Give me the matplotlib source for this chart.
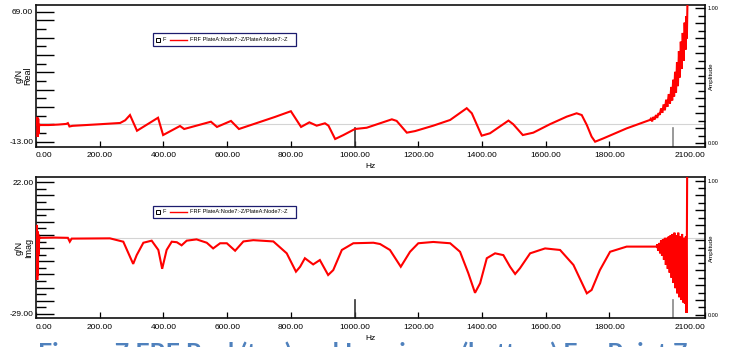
import numpy as np
from matplotlib import pyplot as plt
from matplotlib.patches import Rectangle

plt.rcParams['font.family'] = ['Liberation Sans', 'DejaVu Sans']

# Real part of the FRF (top panel): Hz, g/N
real_hz = [2, 4, 5, 7, 8, 10, 12, 40, 70, 95, 100, 105, 115, 200, 264, 280,
           295, 317, 383, 399, 452, 465, 549, 568, 612, 637, 750, 800, 832,
           858, 881, 907, 918, 939, 965, 1001, 1038, 1117, 1132, 1164, 1190,
           1247, 1300, 1352, 1368, 1399, 1425, 1483, 1498, 1528, 1561, 1613,
           1666, 1697, 1713, 1729, 1744, 1755, 1781, 1854, 1927,
           1930, 1934, 1938, 1942, 1946, 1950, 1954, 1958, 1962, 1966, 1970,
           1974, 1978, 1982, 1986, 1990, 1994, 1997, 2000, 2003, 2006, 2009,
           2012, 2015, 2018, 2021, 2024, 2027, 2030, 2033, 2036, 2039, 2041,
           2043, 2045]
real_val = [-2.5, 2.6, -10.0, 1.5, -8.0, -2.0, -2.5, -2.5, -2.2, -1.8, -1.3,
            -3.4, -3.0, -2.0, -1.2, 0.5, 3.8, -6.1, 2.1, -8.8, -3.1, -5.0,
            -0.4, -3.7, 0.1, -5.0, 2.6, 6.2, -3.7, -0.8, -2.9, -1.4, -2.9,
            -11.3, -8.8, -5.0, -4.2, 1.1, 0.1, -7.3, -6.3, -2.9, 0.7, 8.1,
            4.9, -9.2, -7.7, 0.3, -2.0, -8.8, -7.3, -2.0, 2.8, 4.9, 3.8, -2.5,
            -9.8, -13.0, -10.9, -4.6, 0.7,
            1.5, -0.2, 2.6, 1.0, 3.8, 2.0, 5.0, 3.9, 8.0, 5.2, 10.5, 6.8, 13.5,
            9.0, 17.0, 11.0, 21.5, 13.0, 26.0, 15.5, 31.0, 18.0, 37.0, 22.0,
            44.0, 27.5, 50.0, 33.0, 55.5, 38.0, 62.0, 45.0, 66.0, 52.0, 76.0]

# Imaginary part (bottom panel)
imag_hz = [2, 3, 4, 5, 6, 7, 8, 10, 12, 60, 100, 106, 112, 232, 274, 305,
           316, 337, 363, 384, 396, 410, 426, 442, 457, 473, 504, 536, 556,
           578, 599, 625, 651, 682, 745, 787, 816, 829, 844, 870, 891, 917,
           933, 960, 996, 1059, 1080, 1111, 1145, 1174, 1200, 1247, 1300,
           1331, 1357, 1378, 1394, 1415, 1441, 1467, 1488, 1504, 1519, 1551,
           1598, 1645, 1687, 1729, 1744, 1770, 1802, 1854, 1917, 1948,
           1950, 1953, 1956, 1959, 1962, 1965, 1968, 1971, 1974, 1977, 1980,
           1983, 1986, 1989, 1992, 1995, 1998, 2001, 2004, 2007, 2010, 2013,
           2016, 2019, 2022, 2025, 2028, 2031, 2034, 2037, 2040, 2042, 2044]
imag_val = [0.5, 5.5, -15.8, 3.0, -14.0, 2.0, -6.0, 1.0, 0.5, 0.6, 0.5, -1.0,
            0.2, 0.3, -1.0, -9.6, -6.2, -1.4, -0.6, -4.2, -11.5, -4.2, -1.0,
            -1.2, -2.4, -0.6, -0.1, -1.4, -3.6, -1.6, -1.6, -4.5, -0.9, -0.4,
            -0.9, -5.5, -12.6, -10.7, -7.4, -9.8, -8.1, -13.9, -12.0, -4.2,
            -1.6, -1.4, -1.9, -4.2, -10.7, -4.9, -1.6, -1.1, -1.6, -4.9,
            -13.2, -20.8, -17.1, -7.4, -5.5, -6.2, -10.7, -13.5, -11.3, -5.5,
            -3.6, -4.2, -10.0, -21.0, -19.7, -12.0, -4.9, -2.9, -2.9, -2.9,
            -2.0, -4.5, -1.5, -5.5, -0.5, -6.5, 0.0, -8.0, 0.5, -10.0, 0.5,
            -11.5, 1.0, -13.0, 1.5, -15.0, 2.0, -17.0, 2.5, -19.0, 1.5, -21.0,
            2.5, -22.5, 1.0, -23.5, 2.0, -24.5, 0.5, -25.0, 1.0, -28.6, 27.0]

freq_ticks = [0, 200, 400, 600, 800, 1000, 1200, 1400, 1600, 1800, 2100]
freq_labels = ['%.2f' % f for f in freq_ticks]
marker_hz = [1000, 2000]

real_range = (-13.0, 69.0)
imag_range = (-29.0, 22.0)
real_ref = -2.0
imag_ref = 0.3

legend_label = 'FRF PlateA:Node7:-Z/PlateA:Node7:-Z'
caption = 'Figure 7 FRF Real (top) and Imaginary (bottom) For Point 7'


def setup_panel(ax, hz, vals, yrange, ylim, n_steps, ylabel, ref):
    '''
    Draws one FRF panel with the odd LMS-style axis decorations:
    inward ticks, labels only at the ends, a right amplitude axis.
    '''
    ax.axhline(ref, color='#d4d4d4', lw=0.8, zorder=1)
    ax.plot(hz, vals, color='#ff0000', lw=1.5, zorder=3, solid_joinstyle='miter')

    ax.set_xlim(0, 2100)
    ax.set_ylim(*ylim)

    for side in ax.spines:
        ax.spines[side].set_linewidth(1.2)
        ax.spines[side].set_color('#111111')

    # x axis
    ax.set_xticks(freq_ticks)
    ax.set_xticklabels(freq_labels, fontsize=6)
    ax.tick_params(axis='x', direction='in', length=4, width=0.9, pad=4)
    labels = ax.get_xticklabels()
    labels[0].set_ha('left')
    labels[-1].set_ha('right')
    ax.set_xlabel('Hz', fontsize=6, labelpad=3)

    # long marker lines at 1000 and 2000 Hz
    ax.axvline(marker_hz[0], ymin=0, ymax=0.13, color='#333333', lw=1.2, zorder=2)
    ax.axvline(marker_hz[1], ymin=0, ymax=0.13, color='#888888', lw=1.2, zorder=2)

    # y axis: ends labelled, alternating tick lengths
    ticks = np.linspace(yrange[0], yrange[1], n_steps + 1)
    major = [t for i, t in enumerate(ticks) if i % 2 == 0 or i == n_steps]
    minor = [t for i, t in enumerate(ticks) if not (i % 2 == 0 or i == n_steps)]
    ax.set_yticks(major)
    ax.set_yticks(minor, minor=True)
    ax.set_yticklabels(['%.2f' % t if t in (yrange[0], yrange[1]) else ''
                        for t in major], fontsize=6)
    ax.tick_params(axis='y', which='major', direction='in', length=13, width=1.0, pad=2)
    ax.tick_params(axis='y', which='minor', direction='in', length=7.5, width=1.0)
    ax.set_ylabel(ylabel, fontsize=6.5, linespacing=1.0)
    ax.yaxis.set_label_coords(-0.005, 0.5)

    # right amplitude axis
    amp = ax.twinx()
    amp.set_ylim(-0.025, 1.024)
    amp_ticks = np.linspace(0, 1, 19)
    amp.set_yticks(amp_ticks[::2])
    amp.set_yticks(amp_ticks[1::2], minor=True)
    amp.set_yticklabels(['0.00'] + [''] * 8 + ['1.00'], fontsize=4)
    amp.tick_params(axis='y', which='major', direction='in', length=7.5, width=1.0, pad=2)
    amp.tick_params(axis='y', which='minor', direction='in', length=5, width=1.0)
    amp.set_ylabel('Amplitude', fontsize=4.5)
    amp.yaxis.set_label_coords(1.006, 0.5)
    for side in amp.spines:
        amp.spines[side].set_visible(False)

    # legend box
    tr = ax.transAxes
    ax.add_patch(Rectangle((0.1744, 0.714), 0.2142, 0.085, transform=tr,
                           fill=False, edgecolor='#1c1c6e', lw=0.9, zorder=5))
    ax.plot([0.1829], [0.756], 's', ms=2.6, mfc='white', mec='black', mew=0.7,
            transform=tr, zorder=6)
    ax.text(0.1890, 0.756, 'F', fontsize=4, va='center', transform=tr)
    ax.plot([0.2003, 0.2253], [0.756, 0.756], color='#ff0000', lw=1.0,
            transform=tr, zorder=6)
    ax.text(0.2302, 0.756, legend_label, fontsize=4.1, va='center', transform=tr)


fig = plt.figure(figsize=(7.29, 3.47), dpi=100)
ax_real = fig.add_axes([0.0494, 0.5772, 0.9177, 0.4084])
ax_imag = fig.add_axes([0.0494, 0.0827, 0.9177, 0.4063])

setup_panel(ax_real, real_hz, real_val, real_range, (-16.15, 73.1), 15, 'g/N\nReal', real_ref)
setup_panel(ax_imag, imag_hz, imag_val, imag_range, (-30.67, 23.94), 20, 'g/N\nImag', imag_ref)

# caption of the document page, cut off at the bottom edge (only cap tops show)
fig.text(38 / 729, 1 - 361 / 347, caption, ha='left', va='baseline', fontsize=18,
         fontweight='bold', color='#4f81bd', family=['Lato', 'DejaVu Sans'])

plt.savefig('out.png', dpi=100)
